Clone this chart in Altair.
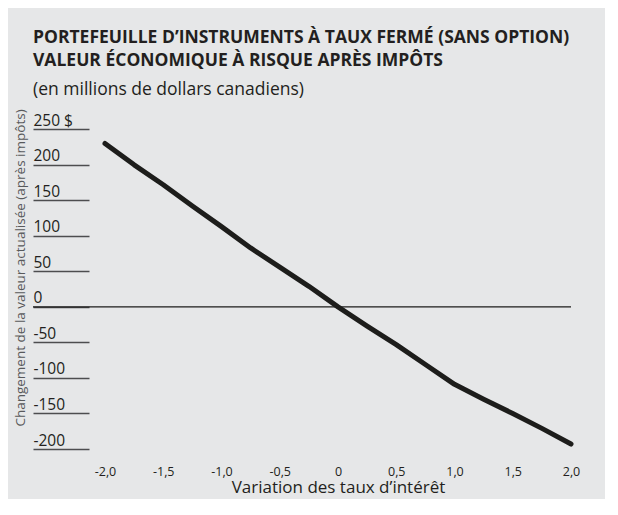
import altair as alt
import pandas as pd

# Data
rate_change = [-2.0, -1.75, -1.5, -1.25, -1.0, -0.75, -0.5, -0.25, 0.0,
               0.25, 0.5, 0.75, 1.0, 1.25, 1.5, 1.75, 2.0]
value_change = [230, 200, 172, 142, 113, 83, 56, 29, 0,
                -27, -53, -81, -109, -130, -150, -171, -193]

x_ticks = [-2.0, -1.5, -1.0, -0.5, 0.0, 0.5, 1.0, 1.5, 2.0]
y_ticks = [250, 200, 150, 100, 50, 0, -50, -100, -150, -200]

title_lines = ["PORTEFEUILLE D\u2019INSTRUMENTS \u00c0 TAUX FERM\u00c9 (SANS OPTION)",
               "VALEUR \u00c9CONOMIQUE \u00c0 RISQUE APR\u00c8S IMP\u00d4TS"]
subtitle = "(en millions de dollars canadiens)"
x_title = "Variation des taux d\u2019int\u00e9r\u00eat"
y_title = "Changement de la valeur actualis\u00e9e (apr\u00e8s imp\u00f4ts)"

FONT = "Open Sans"
TXT = "#231f20"
BG = "#e6e7e8"

df = pd.DataFrame({"x": rate_change, "y": value_change})
zero_df = pd.DataFrame({"y": [0]})

W, H = 562, 345
x_scale = alt.Scale(domain=[-2, 2], range=[72, 538], nice=False, zero=False)
y_scale = alt.Scale(domain=[-200, 250], range=[339, 19.3], nice=False, zero=False)

x_axis = alt.Axis(
    values=x_ticks,
    labelExpr="datum.value == 0 ? '0' : replace(replace(format(datum.value, '.1f'), '.', ','), '\u2212', '-')",
    labelFont=FONT, labelFontSize=12.5, labelColor=TXT,
    labelBaseline="alphabetic", labelPadding=20,
    ticks=False, tickSize=0, domain=False, grid=False,
    title=x_title, titleFont=FONT, titleFontSize=17, titleFontWeight="normal",
    titleColor=TXT, titleX=305, titleY=37, titleBaseline="alphabetic",
    titleAlign="center", labelFlush=False)

y_axis = alt.Axis(
    orient="left", offset=-56, values=y_ticks,
    labelExpr="datum.value == 250 ? '250 $' : '' + datum.value",
    labelFont=FONT, labelFontSize=15.5, labelColor=TXT,
    labelAlign="left", labelBaseline="alphabetic", labelPadding=0,
    labelOffset=-4, labelFlush=False, labelOverlap=False,
    ticks=True, tickSize=56, tickColor="#4d4d4f", tickWidth=1.4,
    domain=False, grid=False,
    title=y_title, titleFont=FONT, titleFontSize=13.5, titleFontWeight="normal",
    titleColor="#58595b", titleAngle=270, titleX=-69, titleY=157.5,
    titleAlign="center", titleBaseline="middle")

line = alt.Chart(df).mark_line(color="#1d1d1b", strokeWidth=5, strokeCap="round",
                               strokeJoin="round").encode(
    x=alt.X("x:Q", scale=x_scale, axis=x_axis),
    y=alt.Y("y:Q", scale=y_scale, axis=y_axis),
)

zero_rule = alt.Chart(zero_df).mark_rule(color="#1d1d1b", strokeWidth=1.2).encode(
    y=alt.Y("y:Q", scale=y_scale, axis=y_axis),
    x=alt.value(0),
    x2=alt.value(538),
)

chart = alt.layer(line, zero_rule).properties(
    width=W, height=H,
    autosize=alt.AutoSizeParams(type="none"),
    padding={"left": 25, "top": 102, "right": 10, "bottom": 44},
    background=BG,
    title=alt.TitleParams(
        text=title_lines, subtitle=subtitle, anchor="start", frame="group",
        font=FONT, fontSize=17.5, fontWeight="bold", color=TXT, lineHeight=23,
        subtitleFont=FONT, subtitleFontSize=17.5, subtitleFontWeight="normal",
        subtitleColor=TXT, subtitlePadding=12, offset=10),
).configure_view(stroke=None)

chart.save("out.html", embed_options={"renderer": "svg", "actions": False})
